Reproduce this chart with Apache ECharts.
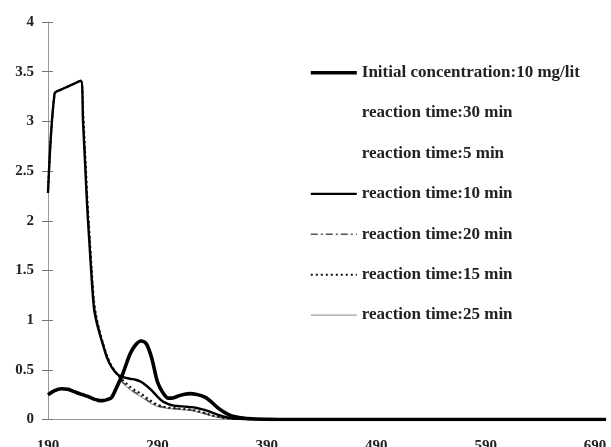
<!DOCTYPE html>
<html>
<head>
<meta charset="utf-8">
<script src="https://cdn.jsdelivr.net/npm/echarts@6/dist/echarts.min.js"></script>
<style>html,body{margin:0;padding:0;background:#fff}#c{width:611px;height:447px}</style>
</head>
<body>
<div id="c"></div>
<script>
var wavelength = [190,196,202,208,214,220,222,224,226,228,230,232,234,237,240,244,248,253,258,265,270,275,280,285,290,295,300,305,310,315,320,325,330,335,340,345,350,355,360,370,380,390,400,450,500,550,600,650,700];
var initialConc = [0.25,0.29,0.31,0.305,0.28,0.255,0.25,0.24,0.235,0.225,0.215,0.205,0.20,0.19,0.19,0.20,0.22,0.33,0.45,0.66,0.75,0.79,0.76,0.61,0.38,0.27,0.215,0.22,0.24,0.255,0.26,0.255,0.24,0.215,0.17,0.12,0.08,0.05,0.03,0.012,0.005,0.002,0,0,0,0,0,0,0];
var rt30 = [2.28,3.28,3.32,3.35,3.38,3.41,3.1,2.65,2.2,1.85,1.5,1.2,1.05,0.9,0.78,0.64,0.54,0.46,0.37,0.30,0.26,0.23,0.19,0.155,0.13,0.12,0.11,0.105,0.10,0.095,0.09,0.08,0.065,0.05,0.035,0.022,0.014,0.008,0.005,0.002,0,0,0,0,0,0,0,0,0];
var rt5 = [2.28,3.28,3.32,3.35,3.38,3.41,3.0,2.55,2.1,1.75,1.4,1.12,1.0,0.87,0.76,0.62,0.53,0.46,0.43,0.41,0.40,0.38,0.34,0.29,0.23,0.18,0.155,0.14,0.135,0.13,0.125,0.118,0.105,0.09,0.07,0.05,0.03,0.018,0.01,0.004,0.002,0,0,0,0,0,0,0,0];
var rt10 = [2.28,3.28,3.32,3.35,3.38,3.41,3.0,2.55,2.1,1.75,1.4,1.12,1.0,0.87,0.76,0.62,0.53,0.46,0.43,0.41,0.40,0.38,0.34,0.29,0.23,0.18,0.155,0.14,0.135,0.13,0.125,0.118,0.105,0.09,0.07,0.05,0.03,0.018,0.01,0.004,0.002,0,0,0,0,0,0,0,0];
var rt20 = [2.28,3.28,3.32,3.35,3.38,3.41,3.08,2.62,2.18,1.82,1.47,1.18,1.03,0.89,0.77,0.63,0.54,0.46,0.38,0.31,0.27,0.24,0.20,0.165,0.14,0.125,0.115,0.11,0.105,0.10,0.095,0.085,0.07,0.055,0.04,0.025,0.016,0.009,0.005,0.002,0,0,0,0,0,0,0,0,0];
var rt15 = [2.28,3.28,3.32,3.35,3.38,3.41,3.12,2.68,2.22,1.86,1.5,1.2,1.05,0.9,0.78,0.64,0.54,0.46,0.40,0.33,0.29,0.26,0.22,0.18,0.15,0.13,0.12,0.115,0.11,0.105,0.10,0.09,0.075,0.06,0.04,0.028,0.018,0.01,0.006,0.002,0,0,0,0,0,0,0,0,0];
var rt25 = [2.28,3.28,3.32,3.35,3.38,3.41,3.1,2.65,2.2,1.85,1.5,1.2,1.05,0.9,0.78,0.64,0.54,0.46,0.37,0.30,0.26,0.23,0.19,0.155,0.13,0.12,0.11,0.105,0.10,0.095,0.09,0.08,0.065,0.05,0.035,0.022,0.014,0.008,0.005,0.002,0,0,0,0,0,0,0,0,0];
var seriesNames = ['Initial concentration:10 mg/lit','reaction time:30 min','reaction time:5 min','reaction time:10 min','reaction time:20 min','reaction time:15 min','reaction time:25 min'];
var yTicks = [0,0.5,1,1.5,2,2.5,3,3.5,4];
var xTicks = [190,290,390,490,590,690];

function pairs(ys){ return wavelength.map(function(x,i){ return [x, ys[i]]; }); }
var font = 'Liberation Serif, Times New Roman, serif';
var values = [initialConc, rt30, rt5, rt10, rt20, rt15, rt25];
var styles = [
  {color:'#000', width:3.6, type:'solid', opacity:1, z:5},
  {color:'#fff', width:1, type:'solid', opacity:0, z:1},
  {color:'#fff', width:1, type:'solid', opacity:0, z:1},
  {color:'#000', width:2.4, type:'solid', opacity:1, z:4},
  {color:'#555', width:1.5, type:[7,3,2,3], opacity:1, z:3},
  {color:'#111', width:2, type:[2,3], opacity:1, z:3},
  {color:'#888', width:1, type:'solid', opacity:1, z:2}
];
var series = seriesNames.map(function(n,i){
  var s = styles[i];
  return {
    name:n, type:'line', data:pairs(values[i]), symbol:'none', smooth:0.3, z:s.z,
    xAxisIndex:0, yAxisIndex:0,
    lineStyle:{color:s.color, width:s.width, type:s.type, opacity:s.opacity},
    itemStyle:{color:s.color, opacity:s.opacity},
    emphasis:{disabled:true}, animation:false
  };
});

var chart = echarts.init(document.getElementById('c'), null, {renderer:'canvas'});
chart.setOption({
  animation:false,
  backgroundColor:'#fff',
  grid:{left:48, right:5, top:22, bottom:27.5, outerBoundsMode:'none', containLabel:false},
  legend:{
    data:seriesNames, orient:'vertical', left:304, top:58.7, itemWidth:46, itemHeight:18, itemGap:22.4,
    itemStyle:{opacity:0}, lineStyle:{width:'inherit'},
    textStyle:{fontFamily:font, fontWeight:'bold', fontSize:17, lineHeight:18, color:'#222'},
    selectedMode:false
  },
  xAxis:{
    type:'value', min:190, max:700, interval:100,
    axisLine:{lineStyle:{color:'#999', width:1}},
    axisTick:{show:false}, splitLine:{show:false},
    axisLabel:{margin:19, fontFamily:font, fontWeight:'bold', fontSize:15, color:'#222', showMaxLabel:false,
      formatter:function(v){ return xTicks.indexOf(v) >= 0 ? String(v) : ''; }}
  },
  yAxis:[{
    type:'value', min:0, max:4, interval:0.5,
    axisLine:{show:true, lineStyle:{color:'#999', width:1}},
    axisTick:{show:true, length:6, lineStyle:{color:'#777'}},
    splitLine:{show:false},
    axisLabel:{margin:14, fontFamily:font, fontWeight:'bold', fontSize:15, color:'#222',
      formatter:function(v){ return yTicks.indexOf(v) >= 0 ? String(v) : ''; }}
  },{
    type:'value', min:0, max:4, interval:0.5, position:'left',
    axisLine:{show:false}, axisLabel:{show:false}, splitLine:{show:false},
    axisTick:{show:true, inside:true, length:5, lineStyle:{color:'#777'}}
  }],
  series:series
});
</script>
</body>
</html>
